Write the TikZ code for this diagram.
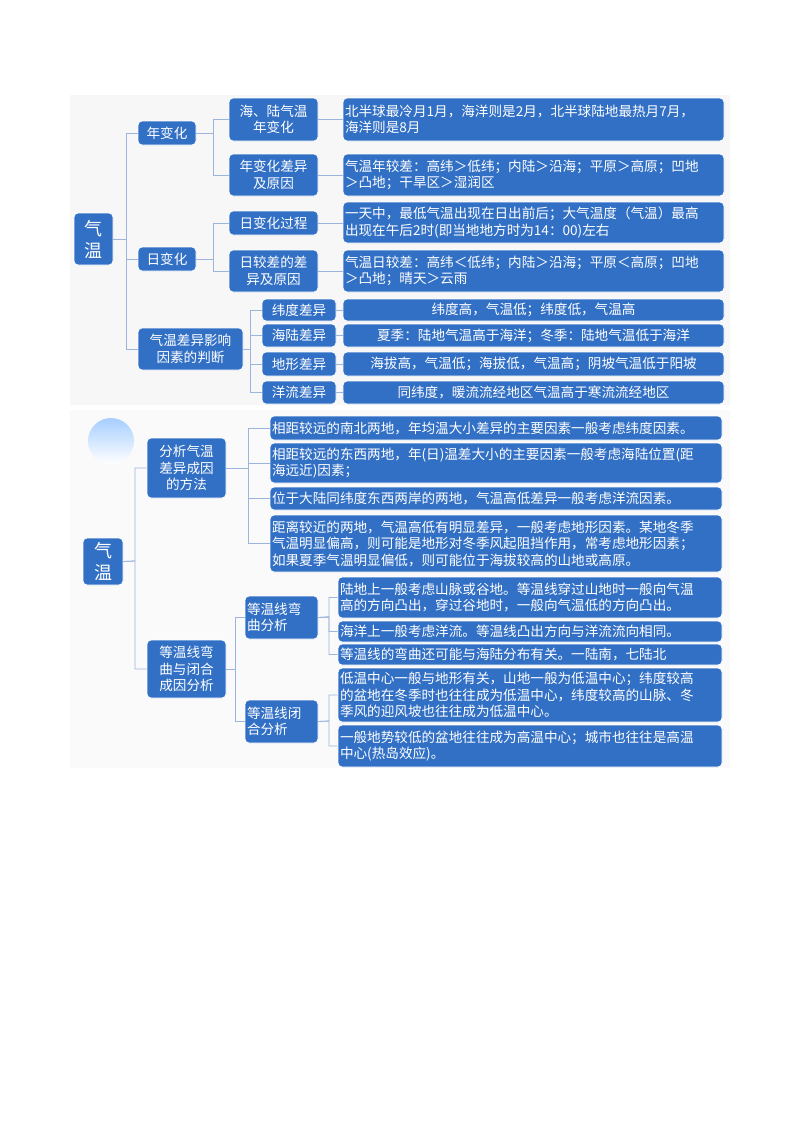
\documentclass[tikz,border=0pt]{standalone}
\usepackage{fontspec}
\setmainfont{Noto Sans CJK SC}
\begin{document}
\begin{tikzpicture}[x=1pt,y=-1pt,
  bxs/.style={fill=boxblue,draw=white,line width=0.8pt,rounded corners=4pt,text=white,inner xsep=2pt,inner ysep=0pt,font=\fontsize{13.6}{16.5}\selectfont},
  L/.style={align=left},
  C/.style={align=center},
  ln/.style={draw=lineblue,line width=0.8pt}]
\definecolor{boxblue}{HTML}{3270C6}
\definecolor{lineblue}{HTML}{9DB4DE}
\useasboundingbox (0,0) rectangle (800,1132);
\fill[white] (0,0) rectangle (800,1132);
\fill[black!3] (70,95) rectangle (730,405);
\fill[black!2] (70,410) rectangle (730,768);
\shade[top color=cyan!45!blue!35,bottom color=white] (111,441) circle (23);
\newcommand\bx[7]{\node[bxs,#1,minimum width={(#5-#3)*1pt},minimum height={(#6-#4)*1pt},text width={(#5-#3-4)*1pt}] (#2) at ({(#3+#5)/2},{(#4+#6)/2}) {#7};}
% top
\bx{C,font=\fontsize{18}{22}\selectfont}{r1}{74}{213}{113}{265}{气\\温}
\bx{C}{a1}{138}{121}{196}{145}{年变化}
\bx{C}{a2}{138}{247}{196}{271}{日变化}
\bx{C}{a3}{138}{328}{243}{370}{气温差异影响\\因素的判断}
\bx{C}{b1}{229}{98}{318}{141}{海、陆气温\\年变化}
\bx{C}{b2}{229}{154}{318}{196}{年变化差异\\及原因}
\bx{C}{b3}{229}{211}{318}{235}{日变化过程}
\bx{C}{b4}{229}{250}{318}{292}{日较差的差\\异及原因}
\bx{L}{c1}{343}{98}{724}{141}{北半球最冷月1月，海洋则是2月，北半球陆地最热月7月，\\海洋则是8月}
\bx{L}{c2}{343}{154}{724}{196}{气温年较差：高纬＞低纬；内陆＞沿海；平原＞高原；凹地\\＞凸地；干旱区＞湿润区}
\bx{L}{c3}{343}{202}{724}{243}{一天中，最低气温出现在日出前后；大气温度（气温）最高\\出现在午后2时(即当地地方时为14：00)左右}
\bx{L}{c4}{343}{250}{724}{292}{气温日较差：高纬＜低纬；内陆＞沿海；平原＜高原；凹地\\＞凸地；晴天＞云雨}
\bx{C}{d1}{262}{299}{336}{321}{纬度差异}
\bx{C}{d2}{262}{324}{336}{347}{海陆差异}
\bx{C}{d3}{262}{352}{336}{376}{地形差异}
\bx{C}{d4}{262}{381}{336}{404}{洋流差异}
\bx{C}{e1}{343}{299}{724}{321}{纬度高，气温低；纬度低，气温高}
\bx{C}{e2}{343}{324}{724}{347}{夏季：陆地气温高于海洋；冬季：陆地气温低于海洋}
\bx{C}{e3}{343}{352}{724}{376}{海拔高，气温低；海拔低，气温高；阴坡气温低于阳坡}
\bx{C}{e4}{343}{381}{724}{404}{同纬度，暖流流经地区气温高于寒流流经地区}
\foreach \c in {a1,a2,a3} \draw[ln] (r1.east) -- (126,239) |- (\c.west);
\foreach \c in {b1,b2} \draw[ln] (a1.east) -- (213,133) |- (\c.west);
\foreach \c in {b3,b4} \draw[ln] (a2.east) -- (213,259) |- (\c.west);
\foreach \c in {d1,d2,d3,d4} \draw[ln] (a3.east) -- (250,349) |- (\c.west);
\draw[ln] (b1.east) -- (c1.west);
\draw[ln] (b2.east) -- (c2.west);
\draw[ln] (b3.east) -- (b3.east -| c3.west);
\draw[ln] (b4.east) -- (c4.west);
\foreach \i in {1,2,3,4} \draw[ln] (d\i.east) -- (e\i.west);
% bottom
\bx{C,font=\fontsize{18}{22}\selectfont}{r2}{83}{538}{123}{585}{气\\温}
\bx{C}{f1}{147}{438}{226}{498}{分析气温\\差异成因\\的方法}
\bx{C}{f2}{147}{640}{226}{698}{等温线弯\\曲与闭合\\成因分析}
\bx{L}{g1}{270}{416}{722}{440}{相距较远的南北两地，年均温大小差异的主要因素一般考虑纬度因素。}
\bx{L}{g2}{270}{443}{722}{483}{相距较远的东西两地，年(日)温差大小的主要因素一般考虑海陆位置(距\\海远近)因素；}
\bx{L}{g3}{270}{487}{722}{510}{位于大陆同纬度东西两岸的两地，气温高低差异一般考虑洋流因素。}
\bx{L}{g4}{270}{515}{722}{572}{距离较近的两地，气温高低有明显差异，一般考虑地形因素。某地冬季\\气温明显偏高，则可能是地形对冬季风起阻挡作用，常考虑地形因素；\\如果夏季气温明显偏低，则可能位于海拔较高的山地或高原。}
\bx{L}{h1}{245}{596}{318}{639}{等温线弯\\曲分析}
\bx{L}{h2}{245}{700}{318}{743}{等温线闭\\合分析}
\bx{L}{k1}{338}{577}{722}{618}{陆地上一般考虑山脉或谷地。等温线穿过山地时一般向气温\\高的方向凸出，穿过谷地时，一般向气温低的方向凸出。}
\bx{L}{k2}{338}{621}{722}{642}{海洋上一般考虑洋流。等温线凸出方向与洋流流向相同。}
\bx{L}{k3}{338}{644}{722}{665}{等温线的弯曲还可能与海陆分布有关。一陆南，七陆北}
\bx{L}{k4}{338}{668}{722}{722}{低温中心一般与地形有关，山地一般为低温中心；纬度较高\\的盆地在冬季时也往往成为低温中心，纬度较高的山脉、冬\\季风的迎风坡也往往成为低温中心。}
\bx{L}{k5}{338}{725}{722}{767}{一般地势较低的盆地往往成为高温中心；城市也往往是高温\\中心(热岛效应)。}
\foreach \c in {f1,f2} \draw[ln] (r2.east) -- (135,561) |- (\c.west);
\foreach \c in {g1,g2,g3,g4} \draw[ln] (f1.east) -- (248,468) |- (\c.west);
\foreach \c in {h1,h2} \draw[ln] (f2.east) -- (235,669) |- (\c.west);
\foreach \c in {k1,k2,k3} \draw[ln] (h1.east) -- (329,617) |- (\c.west);
\foreach \c in {k4,k5} \draw[ln] (h2.east) -- (329,721) |- (\c.west);
\end{tikzpicture}
\end{document}
